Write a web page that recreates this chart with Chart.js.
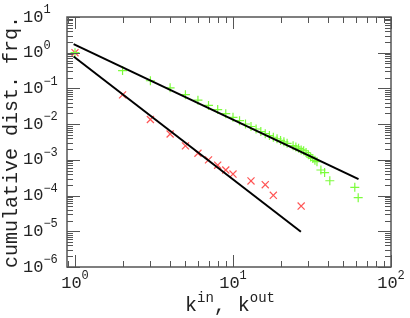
<!DOCTYPE html>
<html>
<head>
<meta charset="utf-8">
<script src="https://cdn.jsdelivr.net/npm/chart.js@4"></script>
<style>
  html, body { margin: 0; padding: 0; background: #fff; }
  #wrap { width: 410px; height: 318px; }
</style>
</head>
<body>
<div id="wrap"><canvas id="chart"></canvas></div>
<script>
// green "+" series
const outK = [1, 2, 3, 4, 5, 6, 7, 8, 9, 10, 11, 12, 13, 14, 15, 16, 17, 18, 19, 20,
              21, 22, 24, 25, 26, 27, 28, 29, 30, 31, 32, 33, 34, 36, 38, 41, 59, 62];
const outP = [1.0, 0.317, 0.164, 0.104, 0.067, 0.047, 0.0334, 0.0255, 0.0196, 0.0155,
              0.0125, 0.0101, 0.0086, 0.0073, 0.0062, 0.0054, 0.0048, 0.0043, 0.0039, 0.0035,
              0.0032, 0.0029, 0.0025, 0.0023, 0.0021, 0.0019, 0.0018, 0.0016, 0.0014, 0.0012,
              0.0011, 0.00097, 0.00089, 0.00052, 0.00044, 0.00026, 0.00017, 0.0000875];

// red "x" series
const inK = [1, 2, 3, 4, 5, 6, 7, 8, 9, 10, 13, 16, 18, 27];
const inP = [1.0, 0.066, 0.0135, 0.0053, 0.00246, 0.00153, 0.001, 0.00071, 0.00052,
             0.0004, 0.000257, 0.000202, 0.000102, 0.000051];

// power-law fits (end points)
const fitOutK = [0.98, 62.3];
const fitOutP = [1.74, 0.000287];
const fitInK  = [0.98, 26.9];
const fitInP  = [0.78, 0.0000097];

const xTickExp = [0, 1, 2];
const yTickExp = [1, 0, -1, -2, -3, -4, -5, -6];

const FONT = "'Liberation Mono', 'DejaVu Sans Mono', monospace";
const TXT  = '#222';
const AXIS = '#555';

const pts = (xs, ys) => xs.map((v, i) => ({ x: v, y: ys[i] }));

function richWidth(ctx, parts, size, supSize) {
  let w = 0;
  parts.forEach(p => {
    ctx.font = `${p.sup ? supSize : size}px ${FONT}`;
    w += ctx.measureText(p.t).width;
  });
  return w;
}

function drawRich(ctx, parts, x, y, size, supSize, raise) {
  let cx = x;
  parts.forEach(p => {
    ctx.font = `${p.sup ? supSize : size}px ${FONT}`;
    ctx.fillText(p.t, cx, p.sup ? y - raise : y);
    cx += ctx.measureText(p.t).width;
  });
}

const frame = {
  id: 'frame',
  afterDraw(chart) {
    const { ctx, chartArea: a, scales: { x, y } } = chart;
    ctx.save();

    // ticks (inward, all four sides)
    ctx.strokeStyle = AXIS;
    ctx.lineWidth = 1;
    ctx.beginPath();
    for (let e = -1; e <= 2; e++) {
      for (let m = 1; m < 10; m++) {
        const v = m * Math.pow(10, e);
        if (v < x.min || v > x.max) continue;
        const px = Math.round(x.getPixelForValue(v)) + 0.5;
        const len = m === 1 ? 12 : 6;
        ctx.moveTo(px, a.bottom); ctx.lineTo(px, a.bottom - len);
        ctx.moveTo(px, a.top);    ctx.lineTo(px, a.top + len);
      }
    }
    for (let e = -6; e <= 1; e++) {
      for (let m = 1; m < 10; m++) {
        const v = m * Math.pow(10, e);
        if (v < y.min * 0.999 || v > y.max * 1.001) continue;
        const py = Math.round(y.getPixelForValue(v)) + 0.5;
        const len = m === 1 ? 13 : 6;
        ctx.moveTo(a.left, py);  ctx.lineTo(a.left + len, py);
        ctx.moveTo(a.right, py); ctx.lineTo(a.right - len, py);
      }
    }
    ctx.stroke();

    // box
    ctx.lineWidth = 1.5;
    ctx.strokeRect(a.left, a.top, a.right - a.left, a.bottom - a.top);

    // tick labels
    ctx.fillStyle = TXT;
    ctx.textBaseline = 'middle';
    ctx.textAlign = 'left';
    xTickExp.forEach(e => {
      const parts = [{ t: '10' }, { t: String(e), sup: true }];
      const w = richWidth(ctx, parts, 17, 12);
      const px = x.getPixelForValue(Math.pow(10, e));
      drawRich(ctx, parts, px - w / 2, 283, 17, 12, 7);
    });
    yTickExp.forEach(e => {
      const parts = [{ t: '10' }, { t: e < 0 ? '\u2212' + (-e) : String(e), sup: true }];
      const py = y.getPixelForValue(Math.pow(10, e));
      drawRich(ctx, parts, 23, py, 17, 12, 7);
    });

    // axis titles
    const xt = [{ t: 'k' }, { t: 'in', sup: true }, { t: ', k' }, { t: 'out', sup: true }];
    const xw = richWidth(ctx, xt, 20, 14);
    drawRich(ctx, xt, (a.left + a.right) / 2 - xw / 2 + 1, 306, 20, 14, 8);

    ctx.translate(12, (a.top + a.bottom) / 2);
    ctx.rotate(-Math.PI / 2);
    ctx.textAlign = 'center';
    ctx.font = `20px ${FONT}`;
    ctx.fillText('cumulative dist. frq.', 0, 0);

    ctx.restore();
  }
};

new Chart(document.getElementById('chart'), {
  type: 'scatter',
  data: {
    datasets: [
      {
        type: 'line', data: pts(fitOutK, fitOutP),
        borderColor: '#000', borderWidth: 2, pointRadius: 0, fill: false
      },
      {
        type: 'line', data: pts(fitInK, fitInP),
        borderColor: '#000', borderWidth: 2, pointRadius: 0, fill: false
      },
      {
        data: pts(outK, outP), pointStyle: 'cross', pointRadius: 4.5,
        borderColor: '#7cfc3c', backgroundColor: '#7cfc3c', pointBorderWidth: 1.2
      },
      {
        data: pts(inK, inP), pointStyle: 'crossRot', pointRadius: 5,
        borderColor: '#ff5555', backgroundColor: '#ff5555', pointBorderWidth: 1.2
      }
    ]
  },
  options: {
    responsive: true,
    maintainAspectRatio: false,
    animation: false,
    layout: { padding: { top: 17, right: 19, left: 0, bottom: 0 } },
    plugins: { legend: { display: false }, tooltip: { enabled: false } },
    scales: {
      x: {
        type: 'logarithmic', min: 0.89, max: 100,
        ticks: { display: false }, grid: { display: false }, border: { display: false },
        afterFit: s => { s.height = 51; }
      },
      y: {
        type: 'logarithmic', min: 1e-6, max: 10,
        ticks: { display: false }, grid: { display: false }, border: { display: false },
        afterFit: s => { s.width = 67; }
      }
    }
  },
  plugins: [frame]
});
</script>
</body>
</html>
